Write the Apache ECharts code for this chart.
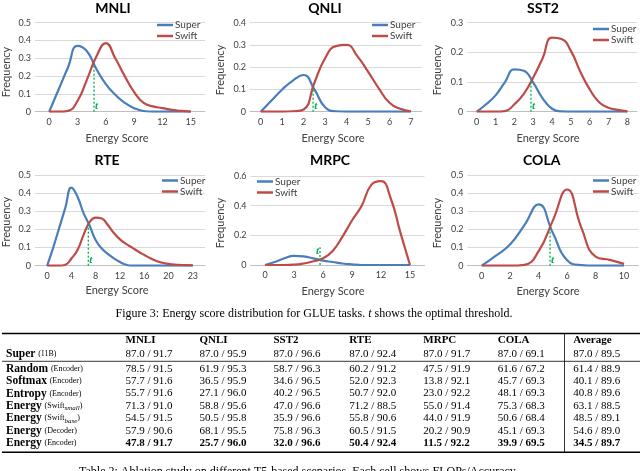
<!DOCTYPE html>
<html><head><meta charset="utf-8">
<script src="https://cdn.jsdelivr.net/npm/echarts@6/dist/echarts.min.js"></script>
<style>html,body{margin:0;padding:0;background:#fff}#c{width:640px;height:471px}</style>
</head><body><div id="c"></div>
<script>
// ---------- chart data ----------
const panelTitles = ['MNLI','QNLI','SST2','RTE','MRPC','COLA'];

const mnliScore = [0,1,2,3,4,5,6,7,8,9,10,11,12,13,14,15];
const mnliSuper = [0,0.125,0.25,0.37,0.34,0.24,0.155,0.095,0.05,0.02,0.004,0,0,0,0,0];
const mnliSwift = [0,0,0.005,0.06,0.18,0.31,0.385,0.3,0.2,0.11,0.05,0.03,0.02,0.01,0.005,0];
const mnliTicks = [0,3,6,9,12,15];
const mnliThreshold = [4.75, 0.26];

const qnliScore = [0,0.5,1,1.5,2,2.5,3,3.5,4,4.5,5,5.5,6,6.5,7];
const qnliSuper = [0,0.05,0.1,0.14,0.165,0.1,0.02,0.002,0,0,0,0,0,0,0];
const qnliSwift = [0,0,0,0.002,0.01,0.13,0.24,0.295,0.3,0.25,0.18,0.105,0.04,0.013,0.002];
const qnliTicks = [0,1,2,3,4,5,6,7];
const qnliThreshold = [2.44, 0.11];

const sst2Score = [0,0.5,1,1.5,2,2.5,3,3.5,4,4.5,5,5.5,6,6.5,7,7.5,8];
const sst2Super = [0,0.025,0.055,0.1,0.143,0.138,0.098,0.045,0.01,0.001,0,0,0,0,0,0,0];
const sst2Swift = [0,0,0,0.002,0.025,0.06,0.115,0.18,0.25,0.245,0.205,0.135,0.075,0.032,0.013,0.006,0.001];
const sst2Ticks = [0,1,2,3,4,5,6,7,8];
const sst2Threshold = [2.88, 0.108];

const rteScore = [0,1,2,3,4,5,6,7,8,9,10,11,12,13,14,15,16,17,18,19,20,21,22,23,24];
const rteSuper = [0,0.1,0.21,0.32,0.43,0.38,0.29,0.22,0.14,0.095,0.065,0.04,0.02,0.005,0,0,0,0,0,0,0,0,0,0,0];
const rteSwift = [0,0,0,0.005,0.04,0.087,0.17,0.24,0.265,0.26,0.224,0.18,0.145,0.12,0.1,0.078,0.059,0.041,0.026,0.016,0.01,0.006,0.004,0.003,0.002];
const rteTicks = [0,4,8,12,16,20,24];
const rteTickLabels = ['0','4','8','12','16','20','23'];
const rteThreshold = [6.78, 0.237];

const mrpcScore = [0,1,2,3,4,5,6,7,8,9,10,11,12,13,14,15];
const mrpcSuper = [0,0.02,0.045,0.062,0.058,0.045,0.03,0.02,0.01,0.004,0,0,0,0,0,0];
const mrpcSwift = [0,0,0,0.002,0.01,0.025,0.045,0.095,0.19,0.3,0.4,0.54,0.565,0.45,0.22,0];
const mrpcTicks = [0,3,6,9,12,15];
const mrpcThreshold = [5.69, 0.12];

const colaScore = [0,1,2,3,4,5,6,7,8,9,10];
const colaSuper = [0,0.055,0.118,0.224,0.338,0.18,0.03,0.003,0,0,0];
const colaSwift = [0,0,0,0.005,0.08,0.25,0.42,0.21,0.05,0.032,0.01];
const colaTicks = [0,2,4,6,8,10];
const colaThreshold = [4.8, 0.21];

// ---------- table data ----------
const tableColumns = ['MNLI','QNLI','SST2','RTE','MRPC','COLA','Average'];
const rowMethods  = ['Super','Random','Softmax','Entropy','Energy','Energy','Energy','Energy'];
const rowVariants = ['11B','Encoder','Encoder','Encoder','Swift|small','Swift|base','Decoder','Encoder'];
const superRow   = ['87.0 / 91.7','87.0 / 95.9','87.0 / 96.6','87.0 / 92.4','87.0 / 91.7','87.0 / 69.1','87.0 / 89.5'];
const randomRow  = ['78.5 / 91.5','61.9 / 95.3','58.7 / 96.3','60.2 / 91.2','47.5 / 91.9','61.6 / 67.2','61.4 / 88.9'];
const softmaxRow = ['57.7 / 91.6','36.5 / 95.9','34.6 / 96.5','52.0 / 92.3','13.8 / 92.1','45.7 / 69.3','40.1 / 89.6'];
const entropyRow = ['55.7 / 91.6','27.1 / 96.0','40.2 / 96.5','50.7 / 92.0','23.0 / 92.2','48.1 / 69.3','40.8 / 89.6'];
const smallRow   = ['71.3 / 91.0','58.8 / 95.6','47.0 / 96.6','71.2 / 88.5','55.0 / 91.4','75.3 / 68.3','63.1 / 88.5'];
const baseRow    = ['54.5 / 91.5','50.5 / 95.8','35.9 / 96.6','55.8 / 90.6','44.0 / 91.9','50.6 / 68.4','48.5 / 89.1'];
const decoderRow = ['57.9 / 90.6','68.1 / 95.5','75.8 / 96.3','60.5 / 91.5','20.2 / 90.9','45.1 / 69.3','54.6 / 89.0'];
const encoderRow = ['47.8 / 91.7','25.7 / 96.0','32.0 / 96.6','50.4 / 92.4','11.5 / 92.2','39.9 / 69.5','34.5 / 89.7'];
const tableRows = [superRow, randomRow, softmaxRow, entropyRow, smallRow, baseRow, decoderRow, encoderRow];

// ---------- layout ----------
const BLUE = '#4A7EBB', RED = '#BE4B48', GREEN = '#00B050';
const CF = 'Lato, "Open Sans", sans-serif';
const SERIF = '"Liberation Serif", "DejaVu Serif", serif';

const panels = [
  {score:mnliScore, sup:mnliSuper, swf:mnliSwift, ticks:mnliTicks, labels:null, thr:mnliThreshold,
   xmin:-1.5, xmax:16.5, ymax:0.5, yint:0.1,
   grid:{left:35, top:22.7, width:170, height:89}, leg:[157,20], title:[113,8], xname:[117,138], yname:[6,72], tpos:'bottom'},
  {score:qnliScore, sup:qnliSuper, swf:qnliSwift, ticks:qnliTicks, labels:null, thr:qnliThreshold,
   xmin:-0.5, xmax:7.5, ymax:0.4, yint:0.1,
   grid:{left:250, top:22.7, width:171.7, height:89}, leg:[372,20], title:[325,8], xname:[333,138], yname:[220,70], tpos:'bottom'},
  {score:sst2Score, sup:sst2Super, swf:sst2Swift, ticks:sst2Ticks, labels:null, thr:sst2Threshold,
   xmin:-0.5, xmax:8.5, ymax:0.3, yint:0.1,
   grid:{left:467.3, top:22.7, width:169.5, height:89}, leg:[593,24], title:[543,8], xname:[548,138], yname:[437,70], tpos:'bottom'},
  {score:rteScore, sup:rteSuper, swf:rteSwift, ticks:rteTicks, labels:rteTickLabels, thr:rteThreshold,
   xmin:-2, xmax:26, ymax:0.5, yint:0.1,
   grid:{left:35, top:175, width:170, height:90.7}, leg:[162,175.5], title:[107,160], xname:[117,290], yname:[6,222], tpos:'bottom'},
  {score:mrpcScore, sup:mrpcSuper, swf:mrpcSwift, ticks:mrpcTicks, labels:null, thr:mrpcThreshold,
   xmin:-1.5, xmax:16.5, ymax:0.6, yint:0.2,
   grid:{left:250.5, top:176, width:174, height:89}, leg:[257,176.5], title:[330,160.5], xname:[333,291.5], yname:[220,223], tpos:'top'},
  {score:colaScore, sup:colaSuper, swf:colaSwift, ticks:colaTicks, labels:null, thr:colaThreshold,
   xmin:-1, xmax:11, ymax:0.5, yint:0.1,
   grid:{left:467.5, top:175, width:170.8, height:90.7}, leg:[593,175.5], title:[541.7,160.5], xname:[548,291.5], yname:[437,223], tpos:'bottom'}
];

const grids = [], xAxes = [], yAxes = [], series = [], legends = [], graphics = [];
const zip = (a, b) => a.map((v, i) => [v, b[i]]);

panels.forEach((p, i) => {
  grids.push(Object.assign({outerBoundsMode:'none', containLabel:false}, p.grid));
  xAxes.push({
    type:'value', gridIndex:i, min:p.xmin, max:p.xmax,
    axisLine:{show:true, lineStyle:{color:'#BFBFBF', width:1}},
    axisTick:{show:false},
    splitLine:{show:false},
    axisLabel:{customValues:p.ticks, margin:6, fontSize:9, color:'#404040', fontFamily:CF,
      formatter: p.labels ? (v => p.labels[p.ticks.indexOf(v)]) : (v => String(v))}
  });
  yAxes.push({
    type:'value', gridIndex:i, min:0, max:p.ymax, interval:p.yint,
    axisLine:{show:false}, axisTick:{show:false},
    splitLine:{lineStyle:{color:'#D9D9D9', width:1}},
    axisLabel:{margin:4, fontSize:9, color:'#404040', fontFamily:CF}
  });
  const common = {type:'line', xAxisIndex:i, yAxisIndex:i, smooth:0.5, showSymbol:false, symbol:'none', animation:false};
  series.push(Object.assign({}, common, {name:'Super', data:zip(p.score, p.sup),
    lineStyle:{color:BLUE, width:2.2}, itemStyle:{color:BLUE}}));
  series.push(Object.assign({}, common, {name:'Swift', data:zip(p.score, p.swf),
    lineStyle:{color:RED, width:2.2}, itemStyle:{color:RED}}));
  const lab = p.tpos === 'bottom'
    ? {show:true, position:'right', distance:1, offset:[0,-6]}
    : {show:true, position:'left', distance:1, offset:[0,4]};
  const tLabel = Object.assign(lab, {formatter:'t', color:GREEN, fontStyle:'italic', fontWeight:'bold', fontSize:11, fontFamily:SERIF});
  const pts = [{value:[p.thr[0], 0]}, {value:[p.thr[0], p.thr[1]]}];
  if (p.tpos === 'bottom') pts[0].label = tLabel; else pts[1].label = tLabel;
  series.push({type:'line', name:'threshold', xAxisIndex:i, yAxisIndex:i, data:pts, symbol:'circle', symbolSize:0.1,
    showSymbol:true, itemStyle:{color:GREEN}, lineStyle:{color:GREEN, width:1.3, type:[2,2]}, animation:false, z:3, silent:true});
  legends.push({left:p.leg[0], top:p.leg[1], orient:'vertical', data:['Super','Swift'], icon:'rect',
    itemWidth:16, itemHeight:2.5, itemGap:1, padding:0, selectedMode:false,
    textStyle:{fontSize:10, color:'#404040', fontFamily:CF, padding:[0,0,0,-3]}});
  graphics.push({type:'text', x:p.title[0], y:p.title[1], style:{text:panelTitles[i], font:'bold 14px ' + CF, fill:'#000', align:'center', verticalAlign:'middle'}});
  graphics.push({type:'text', x:p.xname[0], y:p.xname[1], style:{text:'Energy Score', font:'11px ' + CF, fill:'#404040', align:'center', verticalAlign:'middle'}});
  graphics.push({type:'text', x:p.yname[0], y:p.yname[1], rotation:Math.PI/2, style:{text:'Frequency', font:'11px ' + CF, fill:'#404040', align:'center', verticalAlign:'middle'}});
});

// figure caption
graphics.push({type:'text', x:314, y:314, style:{
  text:'Figure 3: Energy score distribution for GLUE tasks. {i|t} shows the optimal threshold.',
  font:'12px ' + SERIF, fill:'#000', align:'center', verticalAlign:'middle',
  rich:{i:{fontStyle:'italic', fontSize:12, fontFamily:SERIF, fill:'#000'}}}});

// table
const colX = [125.5, 199.5, 273.5, 349.3, 423.3, 497.7, 573.3];
const headerY = 339.7;
const rowY = [354.3, 368.7, 381.1, 393.6, 406, 418.4, 430.9, 443.3];
const richStyles = {
  b:{fontWeight:'bold', fontSize:11.5, fontFamily:SERIF, fill:'#000'},
  s:{fontSize:8, fontFamily:SERIF, fill:'#000'},
  sub:{fontSize:7, fontStyle:'italic', fontFamily:SERIF, fill:'#000', padding:[5,0,0,0]}
};
tableColumns.forEach((c, j) => {
  graphics.push({type:'text', x:colX[j], y:headerY, style:{text:c, font:'bold 11px ' + SERIF, fill:'#000', align:'left', verticalAlign:'middle'}});
});
rowMethods.forEach((m, r) => {
  const v = rowVariants[r];
  let txt;
  if (v.indexOf('|') >= 0) {
    const parts = v.split('|');
    txt = '{b|' + m + '} {s|(' + parts[0] + '}{sub|' + parts[1] + '}{s|)}';
  } else {
    txt = '{b|' + m + '} {s|(' + v + ')}';
  }
  graphics.push({type:'text', x:6, y:rowY[r], style:{text:txt, rich:richStyles, font:'11px ' + SERIF, fill:'#000', align:'left', verticalAlign:'middle'}});
  const bold = r === rowMethods.length - 1;
  tableRows[r].forEach((cell, j) => {
    graphics.push({type:'text', x:colX[j], y:rowY[r], style:{text:cell, font:(bold ? 'bold ' : '') + '11px ' + SERIF, fill:'#000', align:'left', verticalAlign:'middle'}});
  });
});
graphics.push({type:'line', shape:{x1:2, y1:333.5, x2:640, y2:333.5}, style:{stroke:'#000', lineWidth:1.4}});
graphics.push({type:'line', shape:{x1:2, y1:361.3, x2:640, y2:361.3}, style:{stroke:'#000', lineWidth:0.8}});
graphics.push({type:'line', shape:{x1:2, y1:452.3, x2:640, y2:452.3}, style:{stroke:'#000', lineWidth:1.4}});
graphics.push({type:'line', shape:{x1:564.5, y1:334, x2:564.5, y2:452}, style:{stroke:'#000', lineWidth:0.8}});
graphics.push({type:'text', x:79, y:472, style:{text:'Table 2: Ablation study on different T5-based scenarios. Each cell shows FLOPs/Accuracy.', font:'12px ' + SERIF, fill:'#000', align:'left', verticalAlign:'middle'}});

const chart = echarts.init(document.getElementById('c'), null, {renderer:'canvas'});
chart.setOption({
  animation:false,
  backgroundColor:'#fff',
  grid:grids, xAxis:xAxes, yAxis:yAxes, series:series, legend:legends,
  graphic:graphics
});
</script></body></html>
